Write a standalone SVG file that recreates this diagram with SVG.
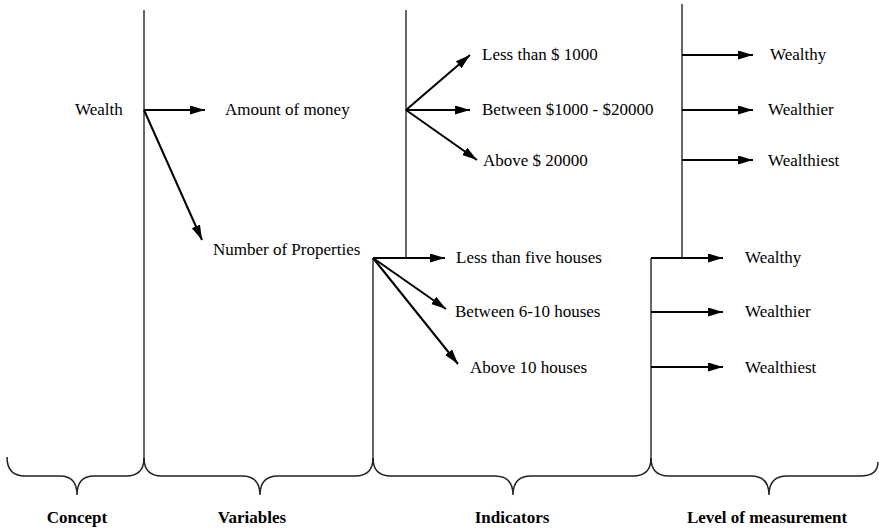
<svg xmlns="http://www.w3.org/2000/svg" width="879" height="528" viewBox="0 0 879 528">
<defs>
<marker id="ah" markerUnits="userSpaceOnUse" markerWidth="16" markerHeight="10" refX="15" refY="4.5" orient="auto">
<path d="M0,0 L15,4.5 L0,9 z" fill="#000"/>
</marker>
<style>
.t{font-family:"Liberation Serif","Times New Roman",serif;font-size:17px;fill:#000}
.b{font-family:"Liberation Serif","Times New Roman",serif;font-size:17px;font-weight:bold;fill:#000}
.v{stroke:#333;stroke-width:1.5;fill:none}
.a{stroke:#000;stroke-width:2;fill:none;marker-end:url(#ah)}
.br{stroke:#222;stroke-width:1.5;fill:none}
</style>
</defs>
<rect width="879" height="528" fill="#fff"/>
<g id="connectors">
<line class="v" x1="144" y1="10" x2="144" y2="460"/>
<line class="v" x1="406" y1="10" x2="406" y2="258"/>
<line class="v" x1="373" y1="258" x2="373" y2="460"/>
<line class="v" x1="682" y1="4" x2="682" y2="258"/>
<line class="v" x1="651" y1="258" x2="651" y2="460"/>
<line class="a" x1="144" y1="110" x2="205" y2="110"/>
<line class="a" x1="144" y1="110" x2="202" y2="240"/>
<line class="a" x1="406" y1="110" x2="470" y2="55"/>
<line class="a" x1="406" y1="110" x2="470" y2="110"/>
<line class="a" x1="406" y1="110" x2="477" y2="160"/>
<line class="a" x1="373" y1="258" x2="445" y2="258"/>
<line class="a" x1="373" y1="258" x2="446" y2="309"/>
<line class="a" x1="373" y1="258" x2="458" y2="364"/>
<line class="a" x1="682" y1="55" x2="753" y2="55"/>
<line class="a" x1="682" y1="110" x2="753" y2="110"/>
<line class="a" x1="682" y1="160" x2="753" y2="160"/>
<line class="a" x1="651" y1="258" x2="723" y2="258"/>
<line class="a" x1="651" y1="312" x2="723" y2="312"/>
<line class="a" x1="651" y1="367" x2="723" y2="367"/>
</g>
<g id="braces">
<path class="br" d="M7,457 Q7,476 25,476 L60,476 Q77,476 77,495 Q77,476 94,476 L126,476 Q144,476 144,458"/>
<path class="br" d="M144,458 Q144,476 162,476 L242,476 Q260,476 260,495 Q260,476 278,476 L355,476 Q373,476 373,458"/>
<path class="br" d="M373,458 Q373,476 391,476 L495,476 Q513,476 513,495 Q513,476 531,476 L633,476 Q651,476 651,458"/>
<path class="br" d="M651,458 Q651,476 669,476 L751,476 Q769,476 769,495 Q769,476 787,476 L860,476 Q878,476 878,462"/>
</g>
<g id="concept"><text class="t" x="75" y="115">Wealth</text></g>
<g id="amount"><text class="t" x="225" y="115">Amount of money</text></g>
<g id="properties"><text class="t" x="213" y="255">Number of Properties</text></g>
<g id="ind1"><text class="t" x="482" y="60">Less than $ 1000</text></g>
<g id="ind2"><text class="t" x="482" y="115">Between $1000 - $20000</text></g>
<g id="ind3"><text class="t" x="483" y="166">Above $ 20000</text></g>
<g id="ind4"><text class="t" x="456" y="263">Less than five houses</text></g>
<g id="ind5"><text class="t" x="455" y="317">Between 6-10 houses</text></g>
<g id="ind6"><text class="t" x="470" y="373">Above 10 houses</text></g>
<g id="lvl1"><text class="t" x="770" y="60">Wealthy</text></g>
<g id="lvl2"><text class="t" x="768" y="115">Wealthier</text></g>
<g id="lvl3"><text class="t" x="768" y="166">Wealthiest</text></g>
<g id="lvl4"><text class="t" x="745" y="263">Wealthy</text></g>
<g id="lvl5"><text class="t" x="745" y="317">Wealthier</text></g>
<g id="lvl6"><text class="t" x="745" y="373">Wealthiest</text></g>
<g id="labels">
<text class="b" x="77" y="523" text-anchor="middle">Concept</text>
<text class="b" x="252" y="523" text-anchor="middle">Variables</text>
<text class="b" x="512" y="523" text-anchor="middle">Indicators</text>
<text class="b" x="767" y="523" text-anchor="middle">Level of measurement</text>
</g>
</svg>
